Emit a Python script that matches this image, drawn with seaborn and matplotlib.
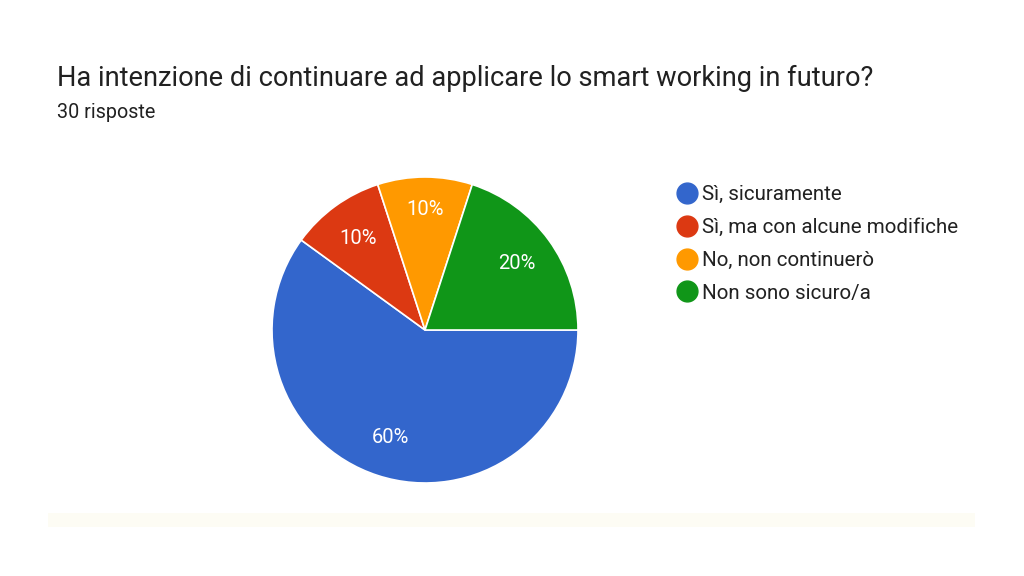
import matplotlib
matplotlib.use('Agg')
import seaborn as sns
import matplotlib.pyplot as plt
from matplotlib.lines import Line2D
from matplotlib.patches import Rectangle

answers = ["Sì, sicuramente", "Sì, ma con alcune modifiche", "No, non continuerò", "Non sono sicuro/a"]
counts = [18, 3, 3, 6]
colors = ["#3366cc", "#dc3912", "#ff9900", "#109618"]
title = "Ha intenzione di continuare ad applicare lo smart working in futuro?"
subtitle = "30 risposte"

sns.set_theme(style="white")
plt.rcParams['font.family'] = ['Roboto', 'DejaVu Sans']

W, H = 1024, 576
fig = plt.figure(figsize=(W / 100, H / 100), dpi=100)
fig.patch.set_facecolor("white")

# faint strip at the bottom
fig.patches.append(Rectangle((48 / W, (H - 527) / H), (975 - 48) / W, 14 / H,
                             transform=fig.transFigure, facecolor="#fdfcf4", edgecolor="none"))

fig.text(57 / W, 1 - 86 / H, title, fontsize=19.6, color="#212121")
fig.text(57 / W, 1 - 118 / H, subtitle, fontsize=14.2, color="#212121")

# pie: centre (425, 330), radius 153 px
r = 153
ax = fig.add_axes([(425 - r) / W, (H - 330 - r) / H, 2 * r / W, 2 * r / H])
wedges, texts, autotexts = ax.pie(counts, colors=colors, startangle=0, counterclock=False,
                                  autopct=lambda p: f"{p:.0f}%", pctdistance=0.74,
                                  wedgeprops=dict(edgecolor="white", linewidth=1.2),
                                  textprops=dict(color="white", fontsize=14.5))
autotexts[2].set_y(autotexts[2].get_position()[1] + 0.05)
ax.set_xlim(-1, 1)
ax.set_ylim(-1, 1)
ax.set_aspect("equal")
ax.axis("off")

handles = [Line2D([], [], marker="o", linestyle="", markersize=15,
                  markerfacecolor=c, markeredgecolor=c) for c in colors]
fig.legend(handles, answers, loc="upper left", bbox_to_anchor=(668 / W, 1 - 177 / H),
           frameon=False, fontsize=14.8, labelspacing=0.67, handletextpad=0.25,
           handlelength=1.0, borderaxespad=0, labelcolor="#212121")

fig.savefig("out.png", dpi=100, facecolor="white")
